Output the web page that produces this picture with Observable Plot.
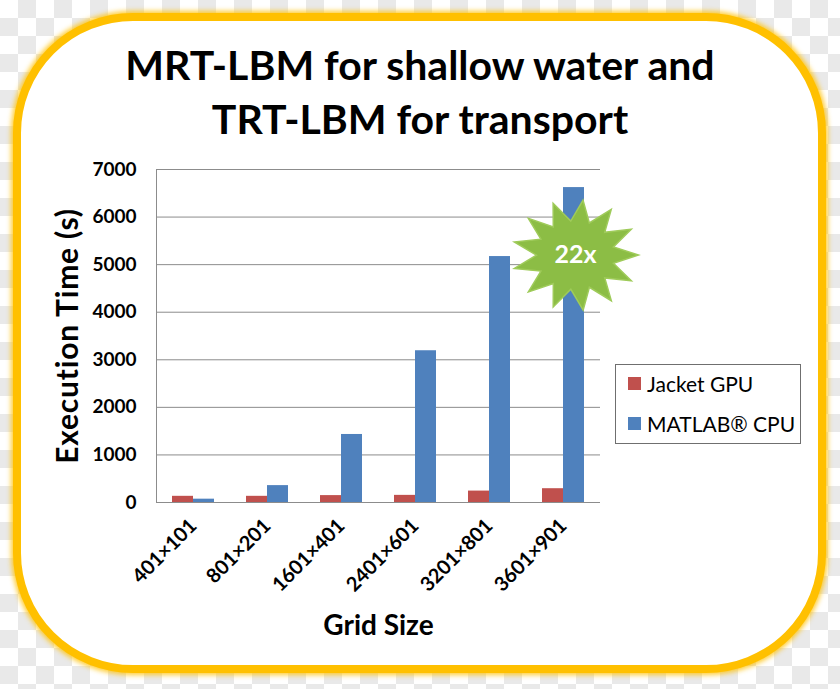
<!DOCTYPE html>
<html>
<head>
<meta charset="utf-8">
<script src="https://cdn.jsdelivr.net/npm/d3@7"></script>
<script src="https://cdn.jsdelivr.net/npm/@observablehq/plot@0.6"></script>
<style>
  html, body { margin: 0; padding: 0; }
  #page {
    position: relative; width: 840px; height: 689px; overflow: hidden;
    background-color: #ffffff;
    background-image: conic-gradient(#e9e9e9 25%, transparent 0 50%, #e9e9e9 0 75%, transparent 0);
    background-size: 36px 36px;
    font-family: Lato, "Open Sans", sans-serif;
  }
  #box {
    position: absolute; left: 13px; top: 13px; width: 797px; height: 644px;
    border: 8px solid #ffc000; border-radius: 120px; background: #fff;
    box-shadow: 0 0 5px 2px rgba(255,192,0,0.8);
  }
  #title {
    position: absolute; left: 0; top: 38px; width: 840px; text-align: center;
    font-weight: bold; font-size: 41px; line-height: 54px; color: #000;
  }
  #chart { position: absolute; left: 0; top: 150px; }
  #legend {
    position: absolute; left: 615px; top: 364px; width: 184px; height: 78px;
    border: 1px solid #6f6f6f; background: #fff; font-size: 21px; color: #000;
  }
  .item { position: absolute; left: 12px; display: flex; align-items: center; white-space: nowrap; }
  .sw { width: 13px; height: 13px; margin-right: 6px; }
  svg g[aria-label="y-axis tick label"] text { font-size: 19px; font-weight: bold; }
  svg g[aria-label="x-axis tick label"] text { font-size: 20px; font-weight: bold; }
  svg g[aria-label="y-axis label"] text { font-size: 30px; font-weight: bold; letter-spacing: 0.8px; }
  svg g[aria-label="x-axis label"] text { font-size: 28px; font-weight: bold; }
</style>
</head>
<body>
<div id="page">
  <div id="box"></div>
  <div id="title">MRT-LBM for shallow water and<br>TRT-LBM for transport</div>
  <div id="chart"></div>
  <div id="legend"></div>
</div>
<script>
const gridSizes = ["401×101", "801×201", "1601×401", "2401×601", "3201×801", "3601×901"];
const seriesNames = ["Jacket GPU", "MATLAB® CPU"];
const jacketGPU = [130, 130, 145, 150, 240, 290];
const matlabCPU = [70, 355, 1430, 3190, 5170, 6620];
const seriesColors = ["#c0504d", "#4f81bd"];
const yTicks = [0, 1000, 2000, 3000, 4000, 5000, 6000, 7000];
const speedupLabel = ["22x"];
const speedupAnchor = {grid: "3601×901", value: 5200};

const gpuData = gridSizes.map((g, i) => ({grid: g, value: jacketGPU[i]}));
const cpuData = gridSizes.map((g, i) => ({grid: g, value: matlabCPU[i]}));
const burst = [{grid: speedupAnchor.grid, value: speedupAnchor.value, label: speedupLabel[0]}];

const starSymbol = {
  draw(context, size) {
    const R = Math.sqrt(size / Math.PI);
    const r = R * 0.62, n = 13;
    for (let k = 0; k < 2 * n; k++) {
      const rad = k % 2 === 0 ? R : r;
      const a = -Math.PI / 2 + 0.12 + k * Math.PI / n;
      const px = rad * Math.cos(a), py = rad * Math.sin(a) * 0.88;
      if (k === 0) context.moveTo(px, py); else context.lineTo(px, py);
    }
    context.closePath();
  }
};

const chart = Plot.plot({
  width: 840,
  height: 500,
  marginLeft: 156,
  marginRight: 240,
  marginTop: 19,
  marginBottom: 148,
  style: {fontFamily: "Lato, 'Open Sans', sans-serif", color: "#000", background: "transparent"},
  x: {domain: gridSizes, paddingInner: 0.432, paddingOuter: 0.216},
  y: {domain: [0, 7000]},
  marks: [
    Plot.gridY(yTicks, {stroke: "#8c8c8c", strokeOpacity: 1}),
    Plot.frame({anchor: "left", stroke: "#8c8c8c"}),
    Plot.ruleY([0], {stroke: "#8c8c8c"}),
    Plot.barY(gpuData, {x: "grid", y: "value", fill: seriesColors[0], insetRight: 21}),
    Plot.barY(cpuData, {x: "grid", y: "value", fill: seriesColors[1], insetLeft: 21}),
    Plot.axisY(yTicks, {tickSize: 0, tickPadding: 20, tickFormat: d => String(d), label: null}),
    Plot.axisY([], {label: "Execution Time (s)", labelAnchor: "center", labelArrow: "none", labelOffset: 100, dy: -12}),
    Plot.axisX({tickSize: 0, tickRotate: -45, tickPadding: 20, label: "Grid Size", labelAnchor: "center", labelArrow: "none", labelOffset: 132}),
    Plot.dot(burst, {x: "grid", y: "value", dx: 12, r: 63, symbol: starSymbol, fill: "#8cbd45", stroke: "#9fcb5a", strokeWidth: 1.5}),
    Plot.text(burst, {x: "grid", y: "value", dx: 12, text: "label", fill: "#fff", fontSize: 25, fontWeight: "bold"})
  ]
});
document.getElementById("chart").appendChild(chart);

const legend = document.getElementById("legend");
seriesNames.forEach((name, i) => {
  const item = document.createElement("div");
  item.className = "item";
  item.style.top = (i === 0 ? 6 : 46) + "px";
  const sw = document.createElement("span");
  sw.className = "sw";
  sw.style.background = seriesColors[i];
  const label = document.createElement("span");
  label.textContent = name;
  item.appendChild(sw);
  item.appendChild(label);
  legend.appendChild(item);
});
</script>
</body>
</html>
